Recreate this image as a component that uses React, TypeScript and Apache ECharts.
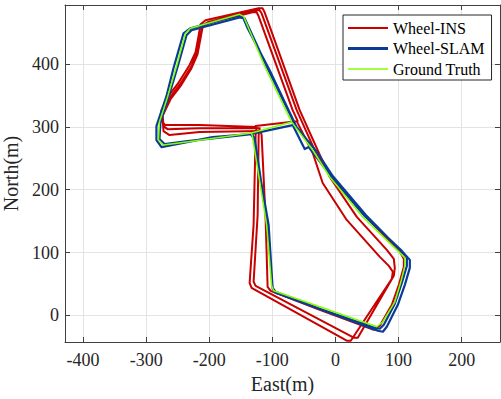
import { useEffect, useRef } from 'react';
import * as echarts from 'echarts';

// Axis extents (metres)
const X_MIN = -428.6;
const X_MAX = 260.8;
const Y_MIN = -42.2;
const Y_MAX = 493.7;

const seriesNames = ['Wheel-INS', 'Wheel-SLAM', 'Ground Truth'];

// Wheel-INS trajectory (3 laps, drifting)
const insEast = [
  -126.5, -61.4, -36.0, -20.2, 17.9, 70.3, 84.6, 90.9, 89.4, 24.3, 17.9, -132.9, -136.0, -129.7, -126.5, -124.9, -215.4, -269.4, -275.7, -275.7, -266.2, -250.3, -231.3, -221.7, -216.7, -213.8, -205.9, -121.7, -115.4, -112.2,
  -56.7, -9.0, 33.8, 81.4, 92.5, 94.1, 92.5, 35.4, 29.0, -126.5, -129.7, -123.3, -121.7, -120.1, -215.4, -266.2, -272.5, -274.1, -263.0, -247.2, -228.1, -218.6, -213.8, -210.6, -202.7, -126.5, -120.1, -117.0,
  -61.4, -32.9, -5.9, 46.5, 102.1, 108.4, 108.4, 100.5, 89.4, 70.3, 60.8, -24.9, -102.7, -107.5, -110.6, -117.0, -118.6, -215.4, -263.0, -272.5, -274.1, -261.4, -245.6, -228.1, -218.6, -213.8, -210.6, -201.1, -131.3, -124.9, -121.7, -67.8, -59.8,
];
const insNorth = [
  301.1, 309.0, 258.3, 210.6, 151.9, 93.2, 78.9, 69.4, 58.3, -40.1, -40.1, 43.8, 51.9, 144.0, 286.8, 299.5, 302.7, 302.7, 309.0, 326.5, 347.1, 367.8, 397.9, 418.6, 445.6, 463.0, 469.4, 488.4, 488.4, 482.1,
  326.5, 220.2, 156.7, 104.3, 90.0, 75.7, 63.0, -35.4, -35.4, 47.1, 53.5, 159.8, 286.8, 297.9, 297.9, 296.3, 301.1, 323.3, 345.5, 366.2, 396.3, 418.6, 444.0, 461.4, 466.2, 485.2, 485.2, 480.5,
  326.5, 263.0, 220.2, 158.3, 101.1, 90.0, 77.3, 48.7, 17.0, -16.3, -22.7, 9.0, 39.2, 45.5, 151.9, 286.8, 293.2, 291.6, 286.8, 293.2, 317.0, 343.9, 364.6, 393.2, 415.4, 440.8, 458.3, 464.6, 482.1, 482.1, 475.7, 326.5, 309.0,
];

// Wheel-SLAM trajectory (2 laps)
const slamEast = [
  -134.4, -67.8, -48.7, -42.4, -5.9, 46.5, 105.2, 117.9, 117.9, 110.0, 98.9, 81.4, 75.1, 67.1, -21.7, -94.8, -99.5, -105.9, -129.7, -134.4, -194.8, -275.7, -283.7, -283.7, -267.8, -256.7, -240.8, -229.7, -155.1, -147.1, -139.2, -104.3, -61.4,
  -28.1, -4.3, 48.1, 102.1, 113.2, 113.2, 105.2, 94.1, 76.7, 70.3, 62.4, -24.9, -94.8, -99.5, -107.5, -128.1, -132.9, -234.4, -270.9, -278.9, -277.3, -264.6, -250.3, -236.0, -228.1, -151.9, -144.0, -107.5, -64.6,
];
const slamNorth = [
  288.4, 302.7, 264.6, 267.8, 220.2, 158.3, 102.7, 88.4, 75.7, 48.7, 17.0, -17.9, -25.9, -24.3, 9.0, 36.0, 42.4, 144.0, 282.1, 288.4, 283.6, 267.8, 278.9, 301.1, 348.7, 393.2, 448.7, 456.7, 477.3, 475.7, 456.7, 390.0, 299.5,
  258.3, 221.7, 159.8, 104.3, 91.6, 78.9, 51.9, 18.6, -14.8, -21.1, -19.5, 10.6, 37.6, 44.0, 144.0, 282.1, 288.4, 277.3, 272.5, 280.5, 307.5, 347.1, 394.8, 445.6, 453.5, 474.1, 472.5, 393.2, 304.3,
];

// Ground truth (one lap)
const gtEast = [
  -132.9, -69.4, -36.0, -9.0, 43.3, 98.9, 110.0, 110.0, 103.7, 94.1, 75.1, 65.6, -24.9, -97.9, -101.1, -109.0, -131.3, -132.9, -236.0, -272.5, -280.5, -278.9, -266.2, -251.9, -237.6, -229.7, -151.9, -145.6, -112.2, -69.4,
];
const gtNorth = [
  290.0, 307.5, 263.0, 220.2, 156.7, 102.7, 91.6, 78.9, 53.5, 21.7, -10.0, -17.9, 13.8, 39.2, 47.1, 144.0, 283.6, 290.0, 275.7, 270.9, 278.9, 307.5, 347.1, 396.3, 448.7, 456.7, 478.9, 475.7, 396.3, 307.5,
];

const zip = (a: number[], b: number[]) => a.map((v, i) => [v, b[i]]);

export default function App() {
  const ref = useRef<HTMLDivElement>(null);
  useEffect(() => {
    document.body.style.margin = '0';
    const chart = echarts.init(ref.current as HTMLDivElement, null, { renderer: 'svg' });
    const font = "'Liberation Serif', serif";
    const axisColor = '#404040';
    const textColor = '#262626';
    const baseAxis = (min: number, max: number) => ({
      type: 'value',
      min,
      max,
      minInterval: 100,
      maxInterval: 100,
      axisLine: { show: true, onZero: false, lineStyle: { color: axisColor, width: 1 } },
      axisTick: { show: true, inside: true, length: 5, lineStyle: { color: axisColor, width: 1 } },
    });
    chart.setOption({
      animation: false,
      backgroundColor: '#ffffff',
      grid: { left: 65, top: 5, right: 1, bottom: 57, containLabel: false, outerBoundsMode: 'none' },
      xAxis: [
        {
          ...baseAxis(X_MIN, X_MAX),
          position: 'bottom',
          name: 'East(m)',
          nameLocation: 'middle',
          nameGap: 31,
          nameTextStyle: { fontFamily: font, fontSize: 20, color: textColor },
          axisLabel: { fontFamily: font, fontSize: 18, color: textColor, margin: 9, showMinLabel: false, showMaxLabel: false },
          splitLine: { show: true, lineStyle: { color: '#e3e3e3', width: 1 } },
        },
        {
          ...baseAxis(X_MIN, X_MAX),
          position: 'top',
          axisLabel: { show: false },
          splitLine: { show: false },
        },
      ],
      yAxis: [
        {
          ...baseAxis(Y_MIN, Y_MAX),
          position: 'left',
          name: 'North(m)',
          nameLocation: 'middle',
          nameGap: 34,
          nameTextStyle: { fontFamily: font, fontSize: 20, color: textColor },
          axisLabel: { fontFamily: font, fontSize: 18, color: textColor, margin: 6, showMinLabel: false, showMaxLabel: false },
          splitLine: { show: true, lineStyle: { color: '#e3e3e3', width: 1 } },
        },
        {
          ...baseAxis(Y_MIN, Y_MAX),
          position: 'right',
          axisLabel: { show: false },
          splitLine: { show: false },
        },
      ],
      legend: {
        orient: 'vertical',
        left: 343,
        top: 15,
        padding: [5, 7, 3, 5],
        itemGap: 4.5,
        itemWidth: 40,
        itemHeight: 14,
        borderColor: '#262626',
        borderWidth: 1,
        borderRadius: 0,
        backgroundColor: '#ffffff',
        textStyle: { fontFamily: font, fontSize: 16, color: '#000000', lineHeight: 16 },
        data: [
          { name: seriesNames[0], icon: 'path://M0,0L40,0L40,2.2L0,2.2Z' },
          { name: seriesNames[1], icon: 'path://M0,0L40,0L40,2.8L0,2.8Z' },
          { name: seriesNames[2], icon: 'path://M0,0L40,0L40,1.6L0,1.6Z' },
        ],
      },
      series: [
        {
          name: seriesNames[0],
          type: 'line',
          xAxisIndex: 0,
          yAxisIndex: 0,
          symbol: 'none',
          showSymbol: false,
          lineStyle: { color: '#C80000', width: 2, join: 'round', cap: 'round' },
          itemStyle: { color: '#C80000' },
          data: zip(insEast, insNorth),
          z: 2,
        },
        {
          name: seriesNames[1],
          type: 'line',
          xAxisIndex: 0,
          yAxisIndex: 0,
          symbol: 'none',
          showSymbol: false,
          lineStyle: { color: '#0A3C96', width: 2.2, join: 'round', cap: 'round' },
          itemStyle: { color: '#0A3C96' },
          data: zip(slamEast, slamNorth),
          z: 3,
        },
        {
          name: seriesNames[2],
          type: 'line',
          xAxisIndex: 0,
          yAxisIndex: 0,
          symbol: 'none',
          showSymbol: false,
          lineStyle: { color: '#80FF00', width: 1.5, join: 'round', cap: 'round' },
          itemStyle: { color: '#80FF00' },
          data: zip(gtEast, gtNorth),
          z: 4,
        },
      ],
    });
    return () => chart.dispose();
  }, []);
  return <div ref={ref} style={{ position: 'absolute', left: 0, top: 0, width: 501, height: 399 }} />;
}
